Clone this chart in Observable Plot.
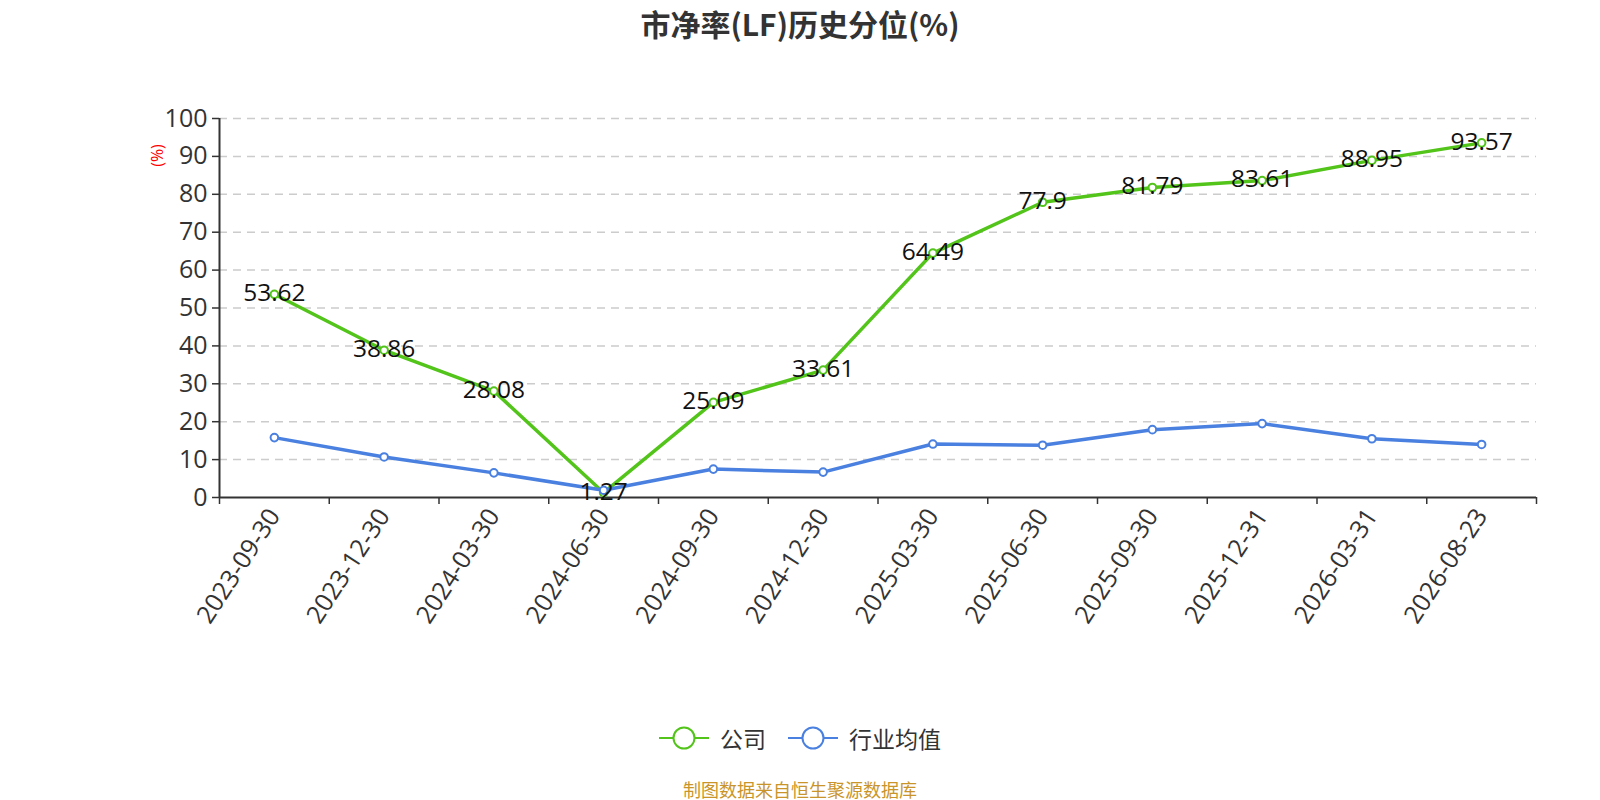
<!DOCTYPE html>
<html><head><meta charset="utf-8">
<script src="https://cdn.jsdelivr.net/npm/d3@7"></script>
<script src="https://cdn.jsdelivr.net/npm/@observablehq/plot@0.6"></script>
<style>
body{margin:0;background:#fff;font-family:"Open Sans","Noto Sans CJK SC",sans-serif;width:1600px;}
#title{height:46px;line-height:46px;text-align:center;font-size:30px;font-weight:bold;color:#333;font-family:"Noto Sans CJK SC",sans-serif;}
#legend{height:44px;display:flex;justify-content:center;align-items:center;font-size:23px;color:#333;font-family:"Noto Sans CJK SC",sans-serif;}
#legend .item{display:flex;align-items:center;}
#legend svg{margin-right:11px;}
#caption{margin-top:14px;line-height:30px;text-align:center;font-size:18px;color:#c9952b;font-family:"Noto Sans CJK SC",sans-serif;}
</style></head><body>
<div id="title">市净率(LF)历史分位(%)</div>
<div id="chart"></div>
<div id="legend"></div>
<div id="caption">制图数据来自恒生聚源数据库</div>
<script>
const dates = ["2023-09-30","2023-12-30","2024-03-30","2024-06-30","2024-09-30","2024-12-30","2025-03-30","2025-06-30","2025-09-30","2025-12-31","2026-03-31","2026-08-23"];
const company = [53.62,38.86,28.08,1.27,25.09,33.61,64.49,77.9,81.79,83.61,88.95,93.57];
const industry = [15.8,10.7,6.5,1.9,7.5,6.7,14.1,13.8,17.9,19.5,15.5,14.0];
const yTicks = [0,10,20,30,40,50,60,70,80,90,100];
const seriesNames = ["公司","行业均值"];
const seriesColors = ["#52c41a","#4a80e0"];
const yUnit = "(%)";

const idx = d3.range(dates.length);
const boundaries = d3.range(dates.length + 1).map(i => i - 0.5);
const font = '"Open Sans", "Noto Sans CJK SC", sans-serif';

const chart = Plot.plot({
  width: 1600, height: 670,
  marginTop: 72, marginBottom: 219, marginLeft: 219, marginRight: 64,
  style: {fontFamily: font, color: "#333", background: "#fff", overflow: "visible"},
  x: {type: "linear", domain: [-0.5, dates.length - 0.5]},
  y: {domain: [0, 100]},
  marks: [
    Plot.gridY(yTicks.slice(1), {stroke: "#ccc", strokeOpacity: 1, strokeDasharray: "8,6", strokeWidth: 1.5}),
    Plot.axisY(yTicks, {tickSize: 7, tickPadding: 5, fontSize: 25, label: null, color: "#333", strokeWidth: 1.5}),
    Plot.axisX(boundaries, {tickSize: 7, tickFormat: () => "", label: null, color: "#333", strokeWidth: 1.5}),
    Plot.text(idx, {x: d => d, y: () => 0, text: d => dates[d], rotate: -57, textAnchor: "end", lineAnchor: "middle", dx: 0, dy: 14, fontSize: 25, fill: "#333"}),
    Plot.ruleY([0], {stroke: "#333", strokeWidth: 2}),
    Plot.ruleX([-0.5], {stroke: "#333", strokeWidth: 2}),
    Plot.text([yUnit], {frameAnchor: "top-left", dx: -62, dy: 37, rotate: -90, textAnchor: "middle", lineAnchor: "middle", fill: "red", fontSize: 16}),
    Plot.line(idx, {x: d => d, y: d => company[d], stroke: seriesColors[0], strokeWidth: 3.5}),
    Plot.dot(idx, {x: d => d, y: d => company[d], r: 3.8, fill: "#fff", stroke: seriesColors[0], strokeWidth: 2}),
    Plot.line(idx, {x: d => d, y: d => industry[d], stroke: seriesColors[1], strokeWidth: 3.5}),
    Plot.dot(idx, {x: d => d, y: d => industry[d], r: 3.8, fill: "#fff", stroke: seriesColors[1], strokeWidth: 2}),
    Plot.text(idx, {x: d => d, y: d => company[d], text: d => String(company[d]), dy: -1, lineAnchor: "middle", fontSize: 24.5, fill: "#111"})
  ]
});
document.getElementById("chart").appendChild(chart);

const legend = document.getElementById("legend");
seriesNames.forEach((name, i) => {
  const item = document.createElement("div");
  item.className = "item";
  if (i > 0) item.style.marginLeft = "22px";
  item.innerHTML = `<svg width="50" height="26" viewBox="0 0 50 26"><line x1="0" y1="13" x2="50" y2="13" stroke="${seriesColors[i]}" stroke-width="2"/><circle cx="25" cy="13" r="10.5" fill="#fff" stroke="${seriesColors[i]}" stroke-width="2"/></svg><span>${name}</span>`;
  legend.appendChild(item);
});
</script>
</body></html>
